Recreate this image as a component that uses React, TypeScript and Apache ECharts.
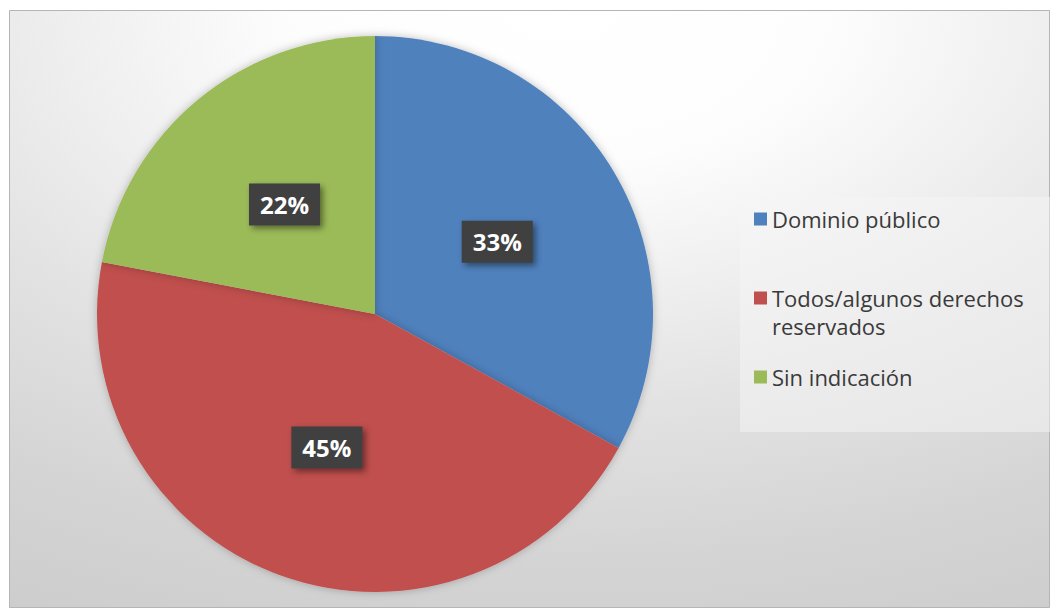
import React, { useEffect, useRef } from "react";
import * as echarts from "echarts";

const categories = ["Dominio público", "Todos/algunos derechos reservados", "Sin indicación"];
const legendLabels = ["Dominio público", "\nTodos/algunos derechos\nreservados", "Sin indicación"];
const values = [33, 45, 22];
const colors = ["#4F81BD", "#C0504D", "#9BBB59"];

export default function App() {
  const ref = useRef<HTMLDivElement>(null);
  useEffect(() => {
    if (!ref.current) return;
    const chart = echarts.init(ref.current, null, { renderer: "svg" });
    const legendMap: Record<string, string> = {};
    categories.forEach((c, i) => (legendMap[c] = legendLabels[i]));
    chart.setOption({
      animation: false,
      graphic: [
        {
          type: "rect",
          z: -10,
          shape: { x: 9.5, y: 10.5, width: 1040, height: 597 },
          style: {
            fill: {
              type: "radial",
              x: 0.53,
              y: 0,
              r: 1.34,
              colorStops: [
                { offset: 0, color: "#ffffff" },
                { offset: 0.19, color: "#fdfdfd" },
                { offset: 0.5, color: "#e2e2e2" },
                { offset: 0.69, color: "#d4d4d4" },
                { offset: 1, color: "#c6c6c6" },
              ],
            },
            stroke: "#b5b5b5",
            lineWidth: 1,
          },
        },
        {
          type: "rect",
          z: -5,
          shape: { x: 740, y: 197, width: 310, height: 235 },
          style: { fill: "rgba(246,246,246,0.5)" },
        },
      ],
      legend: {
        orient: "vertical",
        left: 754,
        top: 205,
        padding: 0,
        itemGap: 23,
        itemWidth: 13,
        itemHeight: 13,
        icon: "rect",
        data: categories,
        formatter: (name: string) => legendMap[name] ?? name,
        textStyle: {
          fontFamily: "Open Sans",
          fontSize: 22,
          lineHeight: 28,
          color: "#3a3a3a",
        },
      },
      series: [
        {
          type: "pie",
          center: [375, 314],
          radius: 278,
          startAngle: 90,
          clockwise: true,
          color: colors,
          data: categories.map((name, i) => ({ name, value: values[i] })),
          itemStyle: {
            borderWidth: 0,
            shadowBlur: 8,
            shadowColor: "rgba(0,0,0,0.25)",
          },
          emphasis: { disabled: true },
          label: {
            show: true,
            position: "inside",
            formatter: "{c}%",
            fontFamily: "Open Sans",
            fontWeight: "bold",
            fontSize: 24,
            lineHeight: 24,
            color: "#ffffff",
            backgroundColor: "#3f3f3f",
            padding: [9, 11],
            shadowColor: "rgba(0,0,0,0.45)",
            shadowBlur: 6,
            shadowOffsetX: 3,
            shadowOffsetY: 3,
          },
          labelLine: { show: false },
        },
      ],
    });
    return () => chart.dispose();
  }, []);
  return (
    <div
      ref={ref}
      style={{ position: "absolute", left: 0, top: 0, width: 1054, height: 610 }}
    />
  );
}
